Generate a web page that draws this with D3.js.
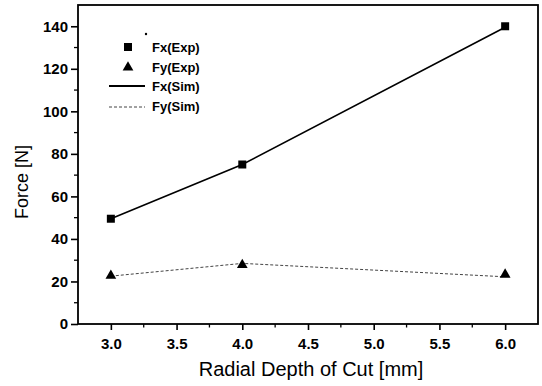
<!DOCTYPE html>
<html>
<head>
<meta charset="utf-8">
<script src="https://cdn.jsdelivr.net/npm/d3@7"></script>
<style>
  body { margin: 0; background: #fff; }
  svg { display: block; font-family: "Liberation Sans", Arial, sans-serif; }
</style>
</head>
<body>
<div id="chart"></div>
<script>
// data
var depth = [3.0, 4.0, 6.0];
var fxExp = [49.5, 75, 140];
var fyExp = [23, 28, 23.5];
var fxSim = [49.5, 75, 139.5];
var fySim = [22.5, 28.5, 22.2];
var xTicks = [3.0, 3.5, 4.0, 4.5, 5.0, 5.5, 6.0];
var yTicks = [0, 20, 40, 60, 80, 100, 120, 140];
var legendNames = ["Fx(Exp)", "Fy(Exp)", "Fx(Sim)", "Fy(Sim)"];

var W = 542, H = 386;
var m = {top: 5, right: 4, bottom: 62, left: 78};

var svg = d3.select('#chart').append('svg')
    .attr('width', W)
    .attr('height', H);

var x = d3.scaleLinear().domain([2.75, 6.25]).range([m.left, W - m.right]);
var y = d3.scaleLinear().domain([0, 150]).range([H - m.bottom, m.top]);

// minor ticks
var xMinor = d3.range(3.25, 6.0, 0.5);
var yMinor = d3.range(10, 150, 20);
svg.append('g').selectAll('line').data(xMinor).enter().append('line')
    .attr('x1', function(d){return x(d)}).attr('x2', function(d){return x(d)})
    .attr('y1', y(0)).attr('y2', y(0) + 3.5)
    .attr('stroke', '#000').attr('stroke-width', 1.3);
svg.append('g').selectAll('line').data(yMinor).enter().append('line')
    .attr('y1', function(d){return y(d)}).attr('y2', function(d){return y(d)})
    .attr('x1', x(2.75) - 4).attr('x2', x(2.75))
    .attr('stroke', '#000').attr('stroke-width', 1.3);

// axes
var xAxis = svg.append('g')
    .attr('transform', 'translate(0,' + y(0) + ')')
    .call(d3.axisBottom(x).tickValues(xTicks).tickFormat(d3.format('.1f')).tickSize(6).tickPadding(8));
var yAxis = svg.append('g')
    .attr('transform', 'translate(' + x(2.75) + ',0)')
    .call(d3.axisLeft(y).tickValues(yTicks).tickSize(7).tickPadding(3));

[xAxis, yAxis].forEach(function(a){
    a.select('.domain').remove();
    a.selectAll('line').attr('stroke', '#000').attr('stroke-width', 1.6);
    a.selectAll('text').attr('fill', '#000')
        .style('font-size', '15px').style('font-weight', 'bold')
        .style('font-family', '"Liberation Sans", Arial, sans-serif');
});

// frame
svg.append('rect')
    .attr('x', x(2.75)).attr('y', y(150))
    .attr('width', x(6.25) - x(2.75)).attr('height', y(0) - y(150))
    .attr('fill', 'none').attr('stroke', '#000').attr('stroke-width', 1.8);

// lines
var fxLine = d3.line().x(function(d, i){return x(depth[i])}).y(function(d){return y(d)});
svg.append('path').datum(fxSim).attr('d', fxLine)
    .attr('fill', 'none').attr('stroke', '#000').attr('stroke-width', 1.6);
svg.append('path').datum(fySim).attr('d', fxLine)
    .attr('fill', 'none').attr('stroke', '#444').attr('stroke-width', 1)
    .attr('stroke-dasharray', '3,2');

// markers
svg.append('g').selectAll('rect').data(fxExp).enter().append('rect')
    .attr('x', function(d, i){return x(depth[i]) - 4})
    .attr('y', function(d){return y(d) - 4})
    .attr('width', 8).attr('height', 8).attr('fill', '#000');
var tri = d3.symbol().type(d3.symbolTriangle).size(50);
svg.append('g').selectAll('path').data(fyExp).enter().append('path')
    .attr('d', tri)
    .attr('transform', function(d, i){return 'translate(' + x(depth[i]) + ',' + (y(d) + 0.5) + ')'})
    .attr('fill', '#000');

// legend
var lg = svg.append('g').attr('transform', 'translate(109,47)');
var rowH = 20;
lg.append('rect').attr('x', 15).attr('y', -4).attr('width', 8).attr('height', 8).attr('fill', '#000');
lg.append('path').attr('d', tri).attr('transform', 'translate(19,' + (rowH + 0.5) + ')').attr('fill', '#000');
lg.append('line').attr('x1', 0).attr('x2', 36).attr('y1', rowH * 2 - 1).attr('y2', rowH * 2 - 1)
    .attr('stroke', '#000').attr('stroke-width', 1.8);
lg.append('line').attr('x1', 0).attr('x2', 36).attr('y1', rowH * 3).attr('y2', rowH * 3)
    .attr('stroke', '#444').attr('stroke-width', 1).attr('stroke-dasharray', '3,2');
lg.selectAll('text').data(legendNames).enter().append('text')
    .attr('x', 43).attr('y', function(d, i){return i * rowH - (i > 1 ? 1 : 0)})
    .attr('dy', '0.35em')
    .style('font-size', '13px').style('font-weight', 'bold')
    .text(function(d){return d});
// small speck next to the legend
lg.append('circle').attr('cx', 37).attr('cy', -13).attr('r', 1.2).attr('fill', '#000');

// axis titles
svg.append('text')
    .attr('x', 311).attr('y', 376)
    .attr('text-anchor', 'middle')
    .style('font-size', '20px')
    .text('Radial Depth of Cut [mm]');
svg.append('text')
    .attr('transform', 'translate(28,' + 182 + ') rotate(-90)')
    .attr('text-anchor', 'middle')
    .style('font-size', '18px')
    .text('Force [N]');
</script>
</body>
</html>
